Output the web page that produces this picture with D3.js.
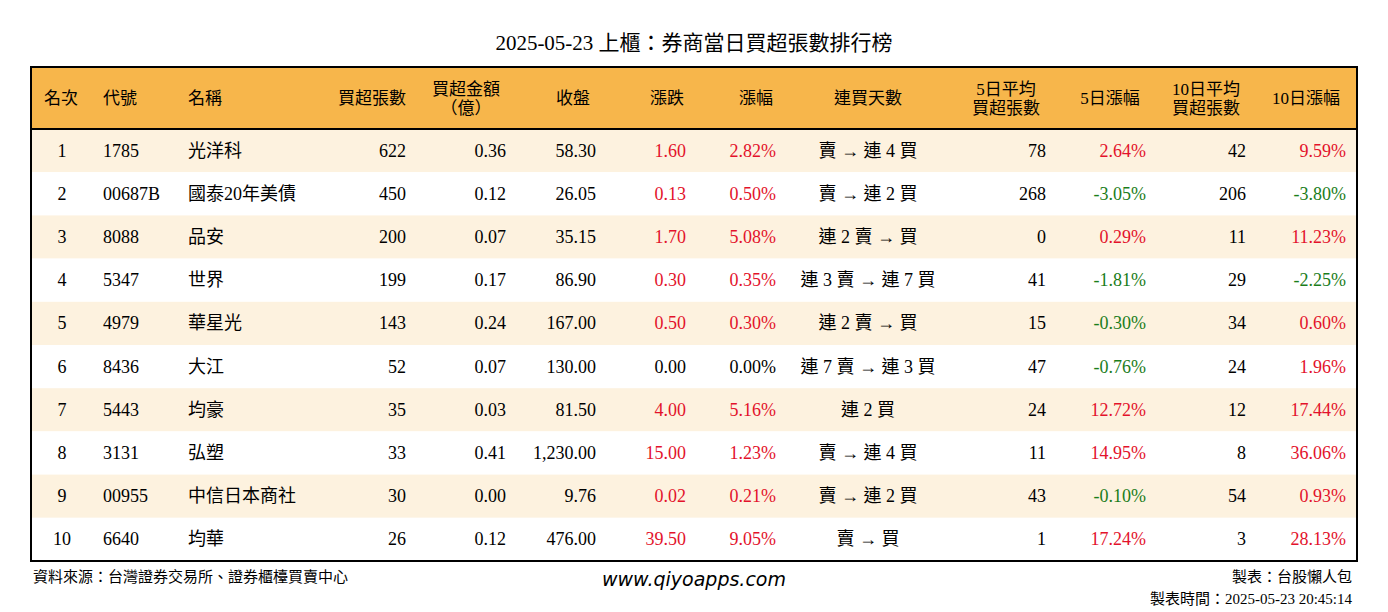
<!DOCTYPE html>
<html><head><meta charset="utf-8">
<script src="https://cdn.jsdelivr.net/npm/d3@7"></script>
<style>
body{margin:0;background:#fff;}
text{font-family:"Liberation Serif","Noto Sans CJK TC",serif;}
</style></head>
<body><svg id="canvas" width="1388" height="612"></svg>
<script>
// table data
let ranks = [1,2,3,4,5,6,7,8,9,10];
let codes = ['1785','00687B','8088','5347','4979','8436','5443','3131','00955','6640'];
let names = ['光洋科','國泰20年美債','品安','世界','華星光','大江','均豪','弘塑','中信日本商社','均華'];
let netLots = [622,450,200,199,143,52,35,33,30,26];
let netAmt = ['0.36','0.12','0.07','0.17','0.24','0.07','0.03','0.41','0.00','0.12'];
let closes = ['58.30','26.05','35.15','86.90','167.00','130.00','81.50','1,230.00','9.76','476.00'];
let changes = [1.60,0.13,1.70,0.30,0.50,0.00,4.00,15.00,0.02,39.50];
let pcts = [2.82,0.50,5.08,0.35,0.30,0.00,5.16,1.23,0.21,9.05];
let streaks = ['賣 → 連 4 買','賣 → 連 2 買','連 2 賣 → 買','連 3 賣 → 連 7 買','連 2 賣 → 買','連 7 賣 → 連 3 買','連 2 買','賣 → 連 4 買','賣 → 連 2 買','賣 → 買'];
let avg5 = [78,268,0,41,15,47,24,11,43,1];
let pct5 = [2.64,-3.05,0.29,-1.81,-0.30,-0.76,12.72,14.95,-0.10,17.24];
let avg10 = [42,206,11,29,34,24,12,8,54,3];
let pct10 = [9.59,-3.80,11.23,-2.25,0.60,1.96,17.44,36.06,0.93,28.13];

let svg = d3.select('#canvas');
let tLeft = 31, tRight = 1357, tTop = 67, headH = 62, tBottom = 561;
let RED = '#e3122b', GREEN = '#1b7d1b';

let y = d3.scaleBand().domain(ranks).range([tTop + headH, tBottom]);

let colColor = v => v > 0 ? RED : (v < 0 ? GREEN : '#000');
let fmtPct = v => v.toFixed(2) + '%';

// columns: header lines, anchor x, text-anchor, header x, value fn, color fn
let cols = [
  {h:['名次'], hx:44, ha:'start', x:62, a:'middle', v:i=>ranks[i]},
  {h:['代號'], hx:103, ha:'start', x:103, a:'start', v:i=>codes[i]},
  {h:['名稱'], hx:188, ha:'start', x:188, a:'start', v:i=>names[i]},
  {h:['買超張數'], hx:406, ha:'end', x:406, a:'end', v:i=>netLots[i]},
  {h:['買超金額','（億）'], hx:466, ha:'middle', x:506, a:'end', v:i=>netAmt[i]},
  {h:['收盤'], hx:573, ha:'middle', x:596, a:'end', v:i=>closes[i]},
  {h:['漲跌'], hx:667, ha:'middle', x:686, a:'end', v:i=>changes[i].toFixed(2), c:i=>colColor(changes[i])},
  {h:['漲幅'], hx:756, ha:'middle', x:776, a:'end', v:i=>fmtPct(pcts[i]), c:i=>colColor(pcts[i])},
  {h:['連買天數'], hx:868, ha:'middle', x:868, a:'middle', v:i=>streaks[i]},
  {h:['5日平均','買超張數'], hx:1006, ha:'middle', x:1046, a:'end', v:i=>avg5[i]},
  {h:['5日漲幅'], hx:1110, ha:'middle', x:1146, a:'end', v:i=>fmtPct(pct5[i]), c:i=>colColor(pct5[i])},
  {h:['10日平均','買超張數'], hx:1206, ha:'middle', x:1246, a:'end', v:i=>avg10[i]},
  {h:['10日漲幅'], hx:1306, ha:'middle', x:1346, a:'end', v:i=>fmtPct(pct10[i]), c:i=>colColor(pct10[i])}
];

svg.append('text').attr('x', 694).attr('y', 50).attr('text-anchor', 'middle')
  .attr('font-size', 21).text('2025-05-23 上櫃：券商當日買超張數排行榜');

// header
svg.append('rect').attr('x', tLeft).attr('y', tTop).attr('width', tRight - tLeft).attr('height', headH).attr('fill', '#f7b64b');

// rows
svg.selectAll('rect.row').data(ranks).enter().append('rect').attr('class', 'row')
  .attr('x', tLeft).attr('y', d => y(d)).attr('width', tRight - tLeft).attr('height', y.bandwidth())
  .attr('fill', (d, i) => i % 2 === 0 ? '#fdf2df' : '#fff');

cols.forEach(c => {
  let g = svg.append('text').attr('text-anchor', c.ha).attr('font-size', 17);
  let n = c.h.length;
  c.h.forEach((t, k) => {
    g.append('tspan').attr('x', c.hx).attr('y', tTop + headH / 2 + 6 + (k - (n - 1) / 2) * 19).text(t);
  });
  svg.selectAll(null).data(ranks).enter().append('text')
    .attr('x', c.x).attr('y', d => y(d) + y.bandwidth() / 2 + 6)
    .attr('text-anchor', c.a).attr('font-size', 18)
    .attr('fill', (d, i) => c.c ? c.c(i) : '#000')
    .text((d, i) => c.v(i));
});

svg.append('line').attr('x1', tLeft).attr('x2', tRight).attr('y1', tTop + headH).attr('y2', tTop + headH)
  .attr('stroke', '#000').attr('stroke-width', 2);
svg.append('rect').attr('x', tLeft).attr('y', tTop).attr('width', tRight - tLeft).attr('height', tBottom - tTop)
  .attr('fill', 'none').attr('stroke', '#000').attr('stroke-width', 2);

// footer
svg.append('text').attr('x', 33).attr('y', 582).attr('font-size', 15).text('資料來源：台灣證券交易所、證券櫃檯買賣中心');
svg.append('text').attr('x', 694).attr('y', 586).attr('text-anchor', 'middle').attr('font-size', 19)
  .attr('font-style', 'italic').style('font-family', '"DejaVu Sans",sans-serif').text('www.qiyoapps.com');
svg.append('text').attr('x', 1352).attr('y', 582).attr('text-anchor', 'end').attr('font-size', 15).text('製表：台股懶人包');
svg.append('text').attr('x', 1352).attr('y', 604).attr('text-anchor', 'end').attr('font-size', 15).text('製表時間：2025-05-23 20:45:14');
</script></body></html>
